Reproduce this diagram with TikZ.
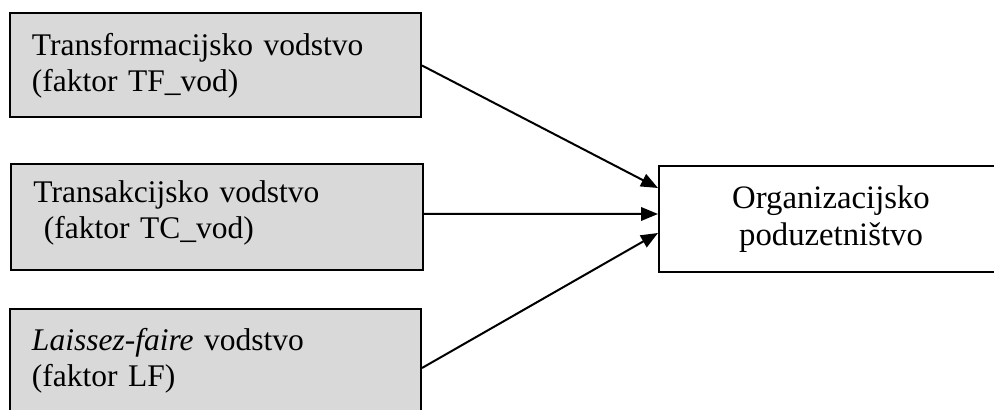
\documentclass[tikz,border=0pt]{standalone}
\usepackage{fontspec}
\setmainfont{Liberation Serif}
\usetikzlibrary{arrows.meta}
\definecolor{boxgray}{HTML}{D9D9D9}

\begin{document}
\begin{tikzpicture}[x=0.4pt,y=-0.4pt,
    factor/.style={draw, line width=0.8pt, fill=boxgray, text width=146.8pt, inner xsep=8.8pt, minimum height=41.6pt, align=left, font=\fontsize{12.6}{14.4}\selectfont},
    outcome/.style={draw, line width=0.8pt, minimum width=137.6pt, minimum height=42.4pt, align=center, font=\fontsize{13.1}{14.8}\selectfont},
    link/.style={line width=0.8pt, -{Triangle[length=6.8pt,width=5.4pt]}}]
    \useasboundingbox (0,0) rectangle (994,410);
    \clip (0,0) rectangle (994,410);
    \node[factor] (tf) at (215.5,65.5) {Transformacijsko vodstvo\\(faktor TF\_vod)};
    \node[factor, minimum height=42.4pt] (tc) at (217,217) {Transakcijsko vodstvo\\\ (faktor TC\_vod)\rule[-5.6pt]{0pt}{0pt}};
    \node[factor] (lf) at (215.5,361) {\textit{Laissez-faire} vodstvo\\(faktor LF)};
    \node[outcome] (org) at (831,219) {Organizacijsko\\poduzetništvo};

    \draw[link] (tf.east) -- ([yshift=12.4pt]org.west);
    \draw[link] ([yshift=1.2pt]tc.east) -- ([yshift=2pt]org.west);
    \draw[link] ([yshift=-2.8pt]lf.east) -- ([yshift=-5.6pt]org.west);
\end{tikzpicture}
\end{document}
